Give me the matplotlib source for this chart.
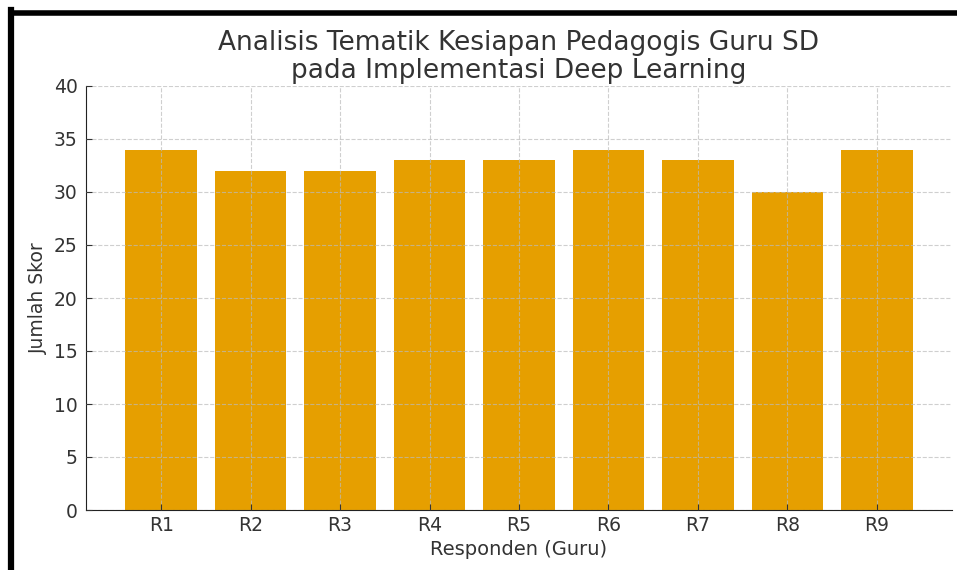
import matplotlib
matplotlib.use("Agg")
import matplotlib.pyplot as plt
from matplotlib.lines import Line2D

responden = ["R1", "R2", "R3", "R4", "R5", "R6", "R7", "R8", "R9"]
skor = [34, 32, 32, 33, 33, 34, 33, 30, 34]

W, H = 957, 570
fig = plt.figure(figsize=(W / 100, H / 100), dpi=100)
ax = fig.add_axes([86 / W, 1 - 510 / H, (952 - 86) / W, (510 - 86) / H])

txt = "#333333"
ax.bar(responden, skor, color="#E69F00", width=0.8, zorder=2)
ax.grid(True, linestyle="--", color="#bbbbbb", linewidth=0.8, alpha=0.7, zorder=3)
ax.set_axisbelow(False)
ax.set_ylim(0, 40)
ax.set_yticks(range(0, 41, 5))
ax.spines["top"].set_visible(False)
ax.spines["right"].set_visible(False)
ax.spines["left"].set_color("#222222")
ax.spines["bottom"].set_color("#222222")
ax.tick_params(labelsize=13.5, colors=txt, direction="in", length=4)
ax.tick_params(axis="x", pad=4)
ax.tick_params(axis="y", pad=6)
ax.set_xlabel("Responden (Guru)", fontsize=14, color=txt, labelpad=4)
ax.set_ylabel("Jumlah Skor", fontsize=13.5, color=txt, labelpad=4)
ax.set_title("Analisis Tematik Kesiapan Pedagogis Guru SD\npada Implementasi Deep Learning",
             fontsize=19, color=txt, pad=6, linespacing=1.1)

# black frame from the screenshot
fig.add_artist(Line2D([11 / W, 11 / W], [0, 1 - 10 / H], color="black", linewidth=4.5,
                      transform=fig.transFigure, solid_capstyle="projecting"))
fig.add_artist(Line2D([11 / W, 1], [1 - 12.5 / H, 1 - 12.5 / H], color="black", linewidth=4,
                      transform=fig.transFigure, solid_capstyle="projecting"))

fig.savefig("out.png", dpi=100)
